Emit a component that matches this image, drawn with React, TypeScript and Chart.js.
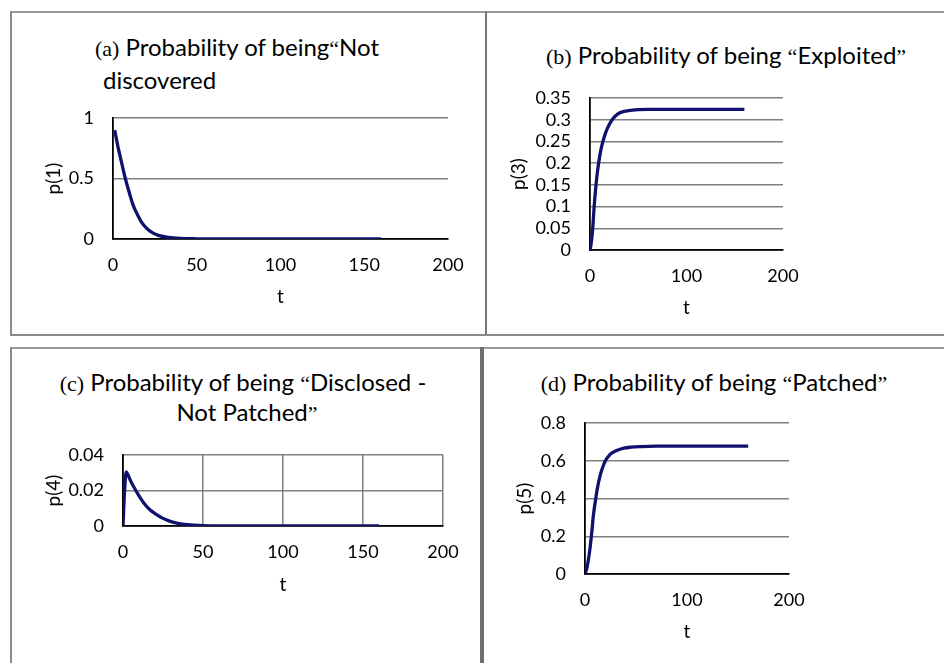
import React, { useEffect, useRef } from "react";
import { Chart, registerables } from "chart.js";

Chart.register(...registerables);

// ---- data ----
const tA = [1, 3, 5, 7, 10, 12, 15, 17, 20, 23, 27, 33, 40, 50, 60, 80, 100, 120, 140, 160];
const pA = [0.9, 0.76, 0.64, 0.52, 0.37, 0.28, 0.19, 0.14, 0.09, 0.056, 0.03, 0.014, 0.005, 0.0015, 0.0005, 0, 0, 0, 0, 0];

const tB = [0, 1, 2, 3, 4, 5, 6, 8, 10, 12, 15, 18, 22, 26, 30, 35, 40, 50, 60, 80, 100, 130, 160];
const pB = [0, 0.012, 0.03, 0.055, 0.09, 0.12, 0.145, 0.185, 0.215, 0.238, 0.262, 0.28, 0.297, 0.308, 0.315, 0.319, 0.321, 0.323, 0.324, 0.324, 0.324, 0.324, 0.324];

const tC = [0, 1, 2, 3, 5, 8, 10, 13, 17, 20, 25, 30, 35, 40, 50, 60, 80, 100, 120, 140, 160];
const pC = [0, 0.02, 0.0305, 0.029, 0.025, 0.02, 0.017, 0.013, 0.009, 0.007, 0.0043, 0.0025, 0.0014, 0.0008, 0.0002, 0, 0, 0, 0, 0, 0];

const tD = [0, 2, 4, 5, 7, 8, 10, 12, 15, 18, 20, 24, 28, 33, 38, 45, 55, 70, 100, 130, 160];
const pD = [0, 0.035, 0.1, 0.14, 0.24, 0.3, 0.38, 0.45, 0.525, 0.575, 0.6, 0.63, 0.646, 0.658, 0.667, 0.672, 0.675, 0.677, 0.677, 0.677, 0.677];

const yTicksA = [0, 0.5, 1];
const yTicksB = [0, 0.05, 0.1, 0.15, 0.2, 0.25, 0.3, 0.35];
const yTicksC = [0, 0.02, 0.04];
const yTicksD = [0, 0.2, 0.4, 0.6, 0.8];

const LINE = "#10106e";
const GRID = "#7f7f7f";
const SANS = "Lato, 'Open Sans', sans-serif";
const SERIF = "'Liberation Serif', 'DejaVu Serif', serif";
const TICK_SIZE = 18;
const AXT_SIZE = 19;

type PanelProps = {
  area: { left: number; top: number; right: number; bottom: number };
  t: number[];
  p: number[];
  yTicks: number[];
  xStep: number;
  yLabel: string;
  yTitleCenter: number;
  xTitleCenter: number;
  xGrid: boolean;
};

const PADL = 90;
const PADT = 22;
const PADR = 24;
const PADB = 82;

function Panel(props: PanelProps) {
  const ref = useRef<HTMLCanvasElement | null>(null);
  const { area } = props;
  const cLeft = area.left - PADL;
  const cTop = area.top - PADT;
  const w = area.right - area.left + PADL + PADR;
  const h = area.bottom - area.top + PADT + PADB;

  useEffect(() => {
    if (!ref.current) return;
    const yMin = props.yTicks[0];
    const yMax = props.yTicks[props.yTicks.length - 1];
    const yStep = props.yTicks[1] - props.yTicks[0];
    const titleLH = AXT_SIZE * 1.2;
    const yTitlePad = props.yTitleCenter - cLeft - titleLH / 2;
    const xTitlePad = cTop + h - props.xTitleCenter - titleLH / 2;
    const chart = new Chart(ref.current, {
      type: "line",
      data: {
        datasets: [
          {
            data: props.t.map((x, i) => ({ x, y: props.p[i] })),
            borderColor: LINE,
            borderWidth: 3.3,
            pointRadius: 0,
            cubicInterpolationMode: "monotone",
            fill: false,
          },
        ],
      },
      options: {
        animation: false,
        responsive: false,
        maintainAspectRatio: false,
        layout: { padding: { left: 0, top: PADT, right: PADR, bottom: 0 } },
        plugins: { legend: { display: false }, tooltip: { enabled: false }, title: { display: false } },
        scales: {
          x: {
            type: "linear",
            min: 0,
            max: 200,
            afterFit: (s: any) => {
              s.height = PADB;
              s.paddingLeft = 0;
              s.paddingRight = 0;
            },
            ticks: {
              stepSize: props.xStep,
              padding: 15,
              color: "#000",
              font: { family: SANS, size: TICK_SIZE },
              maxRotation: 0,
              autoSkip: false,
            },
            grid: {
              display: props.xGrid,
              color: GRID,
              lineWidth: 1.5,
              drawTicks: false,
            },
            border: { display: true, color: "#000", width: 1.8 },
            title: {
              display: true,
              text: "t",
              color: "#000",
              font: { family: SANS, size: AXT_SIZE },
              padding: { top: 0, bottom: xTitlePad },
            },
          },
          y: {
            min: yMin,
            max: yMax,
            afterFit: (s: any) => {
              s.width = PADL;
              s.paddingTop = 0;
              s.paddingBottom = 0;
            },
            ticks: {
              stepSize: yStep,
              padding: 19,
              color: "#000",
              autoSkip: false,
              font: { family: SANS, size: TICK_SIZE },
              callback: (v: any) => String(parseFloat(Number(v).toFixed(4))),
            },
            grid: { color: GRID, lineWidth: 1.5, drawTicks: false },
            border: { display: true, color: "#000", width: 1.8 },
            title: {
              display: true,
              text: props.yLabel,
              color: "#000",
              font: { family: SANS, size: AXT_SIZE },
              padding: { top: yTitlePad, bottom: 0 },
            },
          },
        },
      },
    } as any);
    return () => chart.destroy();
  }, []);

  return (
    <canvas
      ref={ref}
      width={w}
      height={h}
      style={{ position: "absolute", left: cLeft, top: cTop, width: w, height: h }}
    />
  );
}

function Line(p: { l: number; t: number; w: number; h: number; c: string }) {
  return <div style={{ position: "absolute", left: p.l, top: p.t, width: p.w, height: p.h, background: p.c }} />;
}

function TitleLine(p: { x: number; y: number; center?: boolean; children: React.ReactNode }) {
  return (
    <div
      style={{
        position: "absolute",
        left: p.x,
        top: p.y - 15,
        height: 30,
        lineHeight: "30px",
        whiteSpace: "nowrap",
        fontFamily: SANS,
        fontSize: 24,
        color: "#000",
        transform: p.center ? "translateX(-50%)" : undefined,
      }}
    >
      {p.children}
    </div>
  );
}

const S = (p: { children: React.ReactNode }) => (
  <span style={{ fontFamily: SERIF, fontSize: 22 }}>{p.children}</span>
);

export default function App() {
  return (
    <div
      style={{
        position: "fixed",
        left: 0,
        top: 0,
        width: 944,
        height: 663,
        background: "#fff",
        overflow: "hidden",
      }}
    >
      {/* frames */}
      <Line l={10} t={11} w={934} h={2} c="#9a9a9a" />
      <Line l={10} t={11} w={2} h={325} c="#8a8a8a" />
      <Line l={485} t={11} w={2} h={325} c="#777" />
      <Line l={10} t={334} w={934} h={2} c="#8a8a8a" />
      <Line l={10} t={347} w={934} h={2} c="#9a9a9a" />
      <Line l={10} t={347} w={2} h={316} c="#8a8a8a" />
      <Line l={480} t={347} w={4} h={316} c="#6e6e6e" />

      {/* titles */}
      <TitleLine x={95} y={47}>
        <S>(a)</S> Probability of being<S>“</S>Not
      </TitleLine>
      <TitleLine x={103} y={80}>discovered</TitleLine>
      <TitleLine x={726} y={55} center>
        <S>(b)</S> Probability of being <S>“</S>Exploited<S>”</S>
      </TitleLine>
      <TitleLine x={243} y={382} center>
        <S>(c)</S> Probability of being <S>“</S>Disclosed -
      </TitleLine>
      <TitleLine x={247} y={412} center>
        Not Patched<S>”</S>
      </TitleLine>
      <TitleLine x={714} y={382} center>
        <S>(d)</S> Probability of being <S>“</S>Patched<S>”</S>
      </TitleLine>

      <Panel
        area={{ left: 113, top: 118, right: 448, bottom: 239 }}
        t={tA}
        p={pA}
        yTicks={yTicksA}
        xStep={50}
        yLabel="p(1)"
        yTitleCenter={54}
        xTitleCenter={297}
        xGrid={false}
      />
      <Panel
        area={{ left: 590, top: 98, right: 783, bottom: 250 }}
        t={tB}
        p={pB}
        yTicks={yTicksB}
        xStep={100}
        yLabel="p(3)"
        yTitleCenter={519}
        xTitleCenter={308}
        xGrid={false}
      />
      <Panel
        area={{ left: 123, top: 455, right: 443, bottom: 526 }}
        t={tC}
        p={pC}
        yTicks={yTicksC}
        xStep={50}
        yLabel="p(4)"
        yTitleCenter={54}
        xTitleCenter={585}
        xGrid={true}
      />
      <Panel
        area={{ left: 585, top: 423, right: 789, bottom: 574 }}
        t={tD}
        p={pD}
        yTicks={yTicksD}
        xStep={100}
        yLabel="p(5)"
        yTitleCenter={525}
        xTitleCenter={632}
        xGrid={false}
      />
    </div>
  );
}
